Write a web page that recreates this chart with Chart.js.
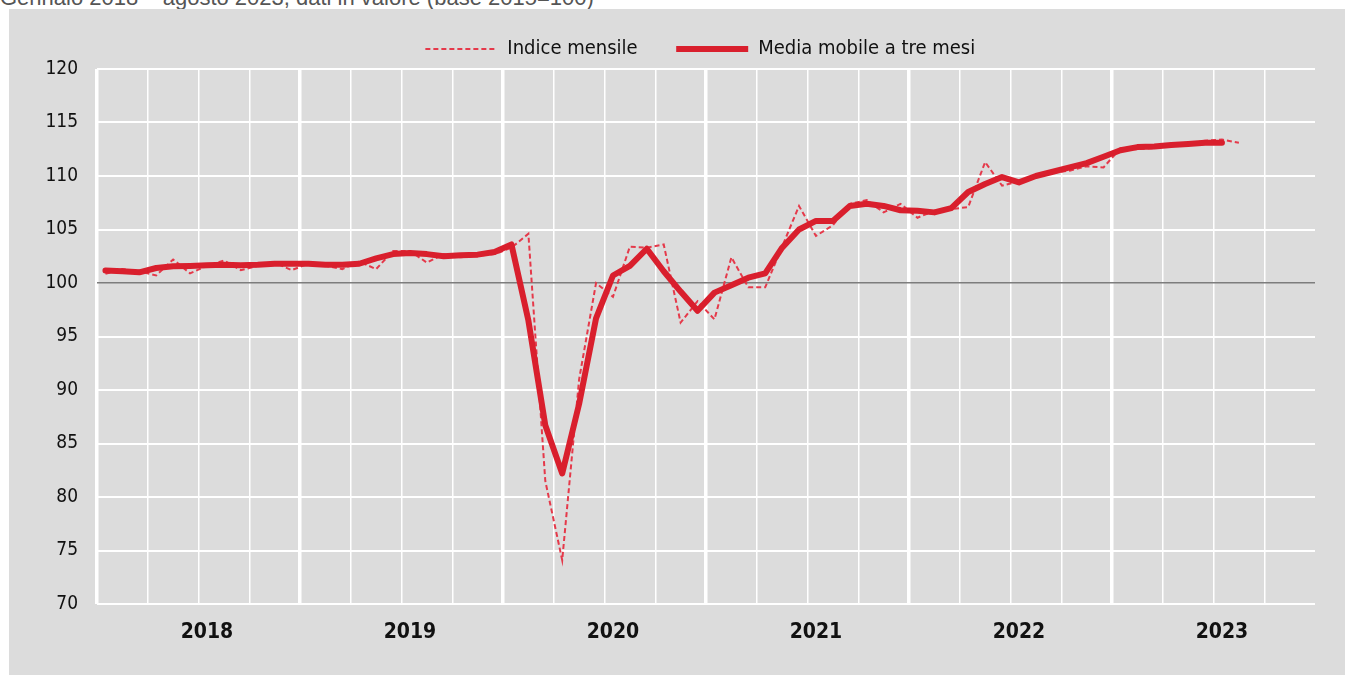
<!DOCTYPE html>
<html><head><meta charset="utf-8">
<script src="https://cdn.jsdelivr.net/npm/chart.js@4/dist/chart.umd.min.js"></script>
<style>
html,body{margin:0;padding:0;background:#fff;width:1357px;height:675px;overflow:hidden;}
#sub{position:absolute;left:0;top:-15px;font:22px 'Liberation Sans',Arial,sans-serif;color:#555;white-space:nowrap;}
#panel{position:absolute;left:9px;top:9px;width:1336px;height:666px;background:#dcdcdc;}
canvas{display:block}
</style></head><body>
<div id="sub">Gennaio 2018 – agosto 2023, dati in valore (base 2015=100)</div>
<div id="panel"><canvas id="c" width="1336" height="666"></canvas></div>
<script>
const years = ['2018','2019','2020','2021','2022','2023'];
const monthNames = ['gen','feb','mar','apr','mag','giu','lug','ago','set','ott','nov','dic'];
const seriesNames = ['Indice mensile','Media mobile a tre mesi'];
const yTicks = [70,75,80,85,90,95,100,105,110,115,120];

// Indice mensile (gen 2018 - ago 2023)
const indiceMensile = [
  100.85,101.3,101.1,100.7,102.2,100.9,101.6,102.1,101.2,101.6,101.9,101.2,
  101.8,101.6,101.3,102.0,101.3,103.0,103.0,101.9,102.7,102.4,102.55,102.7,
  103.3,104.6,81.5,74.1,91.0,100.0,98.7,103.4,103.3,103.6,96.3,98.3,
  96.6,102.4,99.6,99.6,103.4,107.2,104.4,105.4,107.4,107.75,106.6,107.4,
  106.1,106.75,106.9,107.1,111.3,109.1,109.5,110.0,110.3,110.5,110.9,110.8,
  112.6,112.5,112.6,112.9,113.0,113.3,113.4,113.1
];
// Media mobile a tre mesi (gen 2018 - lug 2023)
const mediaMobile = [
  101.16,101.1,101.0,101.4,101.56,101.6,101.65,101.7,101.65,101.7,101.8,101.8,
  101.8,101.7,101.7,101.8,102.3,102.7,102.8,102.7,102.5,102.6,102.65,102.9,
  103.6,96.5,86.7,82.2,88.7,96.7,100.7,101.6,103.2,101.1,99.2,97.4,
  99.1,99.8,100.5,100.9,103.3,105.0,105.8,105.8,107.2,107.4,107.2,106.8,
  106.75,106.6,107.0,108.5,109.25,109.9,109.4,110.0,110.4,110.8,111.2,111.8,
  112.4,112.7,112.75,112.9,113.0,113.1,113.1
];

const categories = [];
years.forEach(y => monthNames.forEach(m => categories.push(m + ' ' + y)));

const FAM = "'Liberation Sans Narrow','Arial Narrow','DejaVu Sans Condensed',sans-serif";

new Chart(document.getElementById('c'), {
  type: 'line',
  data: {
    labels: categories,
    datasets: [
      { label: seriesNames[0], data: indiceMensile, borderColor: '#e5394a', backgroundColor: '#e5394a',
        borderWidth: 2, borderDash: [5,3], pointRadius: 0, tension: 0, order: 2, fill: false },
      { label: seriesNames[1], data: mediaMobile, borderColor: '#d91f2d', backgroundColor: '#d91f2d',
        borderWidth: 6, pointRadius: 0, tension: 0, order: 1, fill: false,
        borderJoinStyle: 'round', borderCapStyle: 'round' }
    ]
  },
  options: {
    responsive: false,
    animation: false,
    devicePixelRatio: 1,
    layout: { padding: { left: 0, right: 30, top: 20, bottom: 0 } },
    plugins: {
      tooltip: { enabled: false },
      legend: {
        position: 'top',
        fullSize: false,
        labels: {
          usePointStyle: true, pointStyle: 'line', pointStyleWidth: 72, boxHeight: 18,
          padding: 10, color: '#111', font: { family: FAM, size: 20 },
          generateLabels: (chart) => {
            const items = Chart.defaults.plugins.legend.labels.generateLabels(chart);
            items.sort((a, b) => a.datasetIndex - b.datasetIndex);
            items.forEach(it => {
              const ds = chart.data.datasets[it.datasetIndex];
              it.lineDash = ds.borderDash || [];
              it.lineWidth = ds.borderWidth;
              it.strokeStyle = ds.borderColor;
              it.lineCap = 'butt';
            });
            items[0].text = items[0].text + '     ';
            items[1].text = items[1].text + '  ';
            return items;
          }
        }
      }
    },
    scales: {
      x: {
        offset: true,
        border: { display: false },
        grid: {
          offset: true, drawTicks: false,
          color: c => (c.index % 3 === 0) ? '#ffffff' : 'rgba(0,0,0,0)',
          lineWidth: c => (c.index % 12 === 0) ? 3.5 : 1.5
        },
        ticks: {
          autoSkip: false, maxRotation: 0, minRotation: 0, padding: 16,
          color: '#111', font: { family: FAM, size: 21, weight: 'bold' },
          callback: (v, i) => (i % 12 === 6) ? years[Math.floor(i / 12)] : ''
        },
        afterFit: s => { s.height = 71; }
      },
      y: {
        min: 70, max: 120,
        border: { display: false },
        grid: {
          drawTicks: false,
          color: c => (c.tick && c.tick.value === 100) ? '#7d7d7d' : '#ffffff',
          lineWidth: c => (c.tick && c.tick.value === 100) ? 1.5 : 2
        },
        afterBuildTicks: s => { s.ticks = yTicks.map(v => ({ value: v })); },
        ticks: { padding: 19, color: '#111', font: { family: FAM, size: 19 } },
        afterFit: s => { s.width = 88; }
      }
    }
  }
});
</script>
</body></html>
